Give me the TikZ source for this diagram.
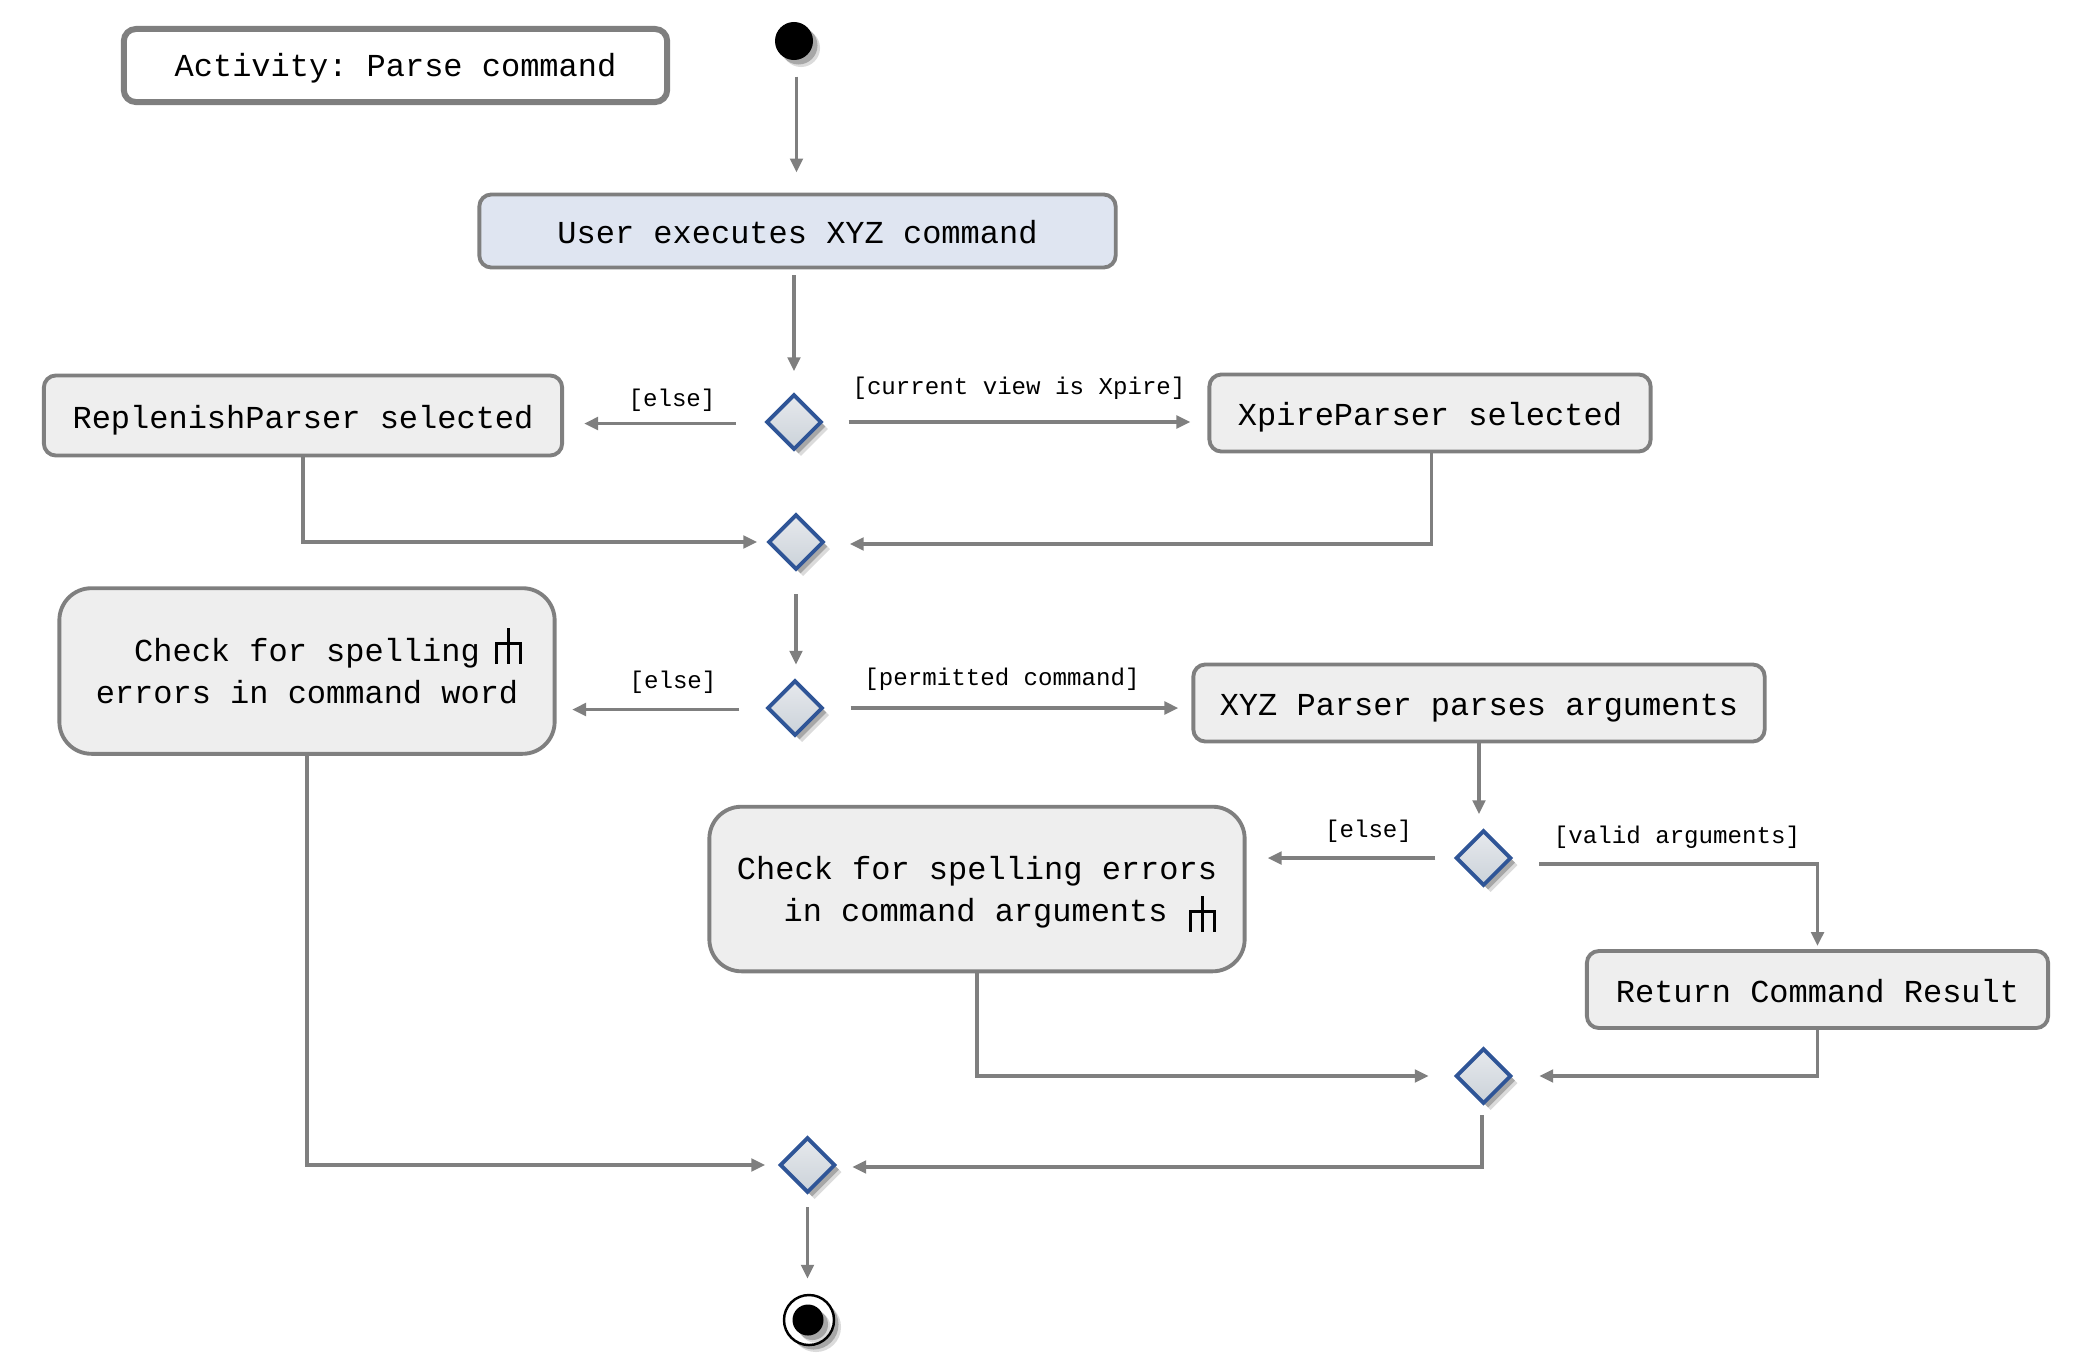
\documentclass[tikz,border=0pt]{standalone}
\usepackage{fontspec}
\setmonofont{Liberation Mono}
\usetikzlibrary{shapes.geometric,arrows.meta,shadows}
\definecolor{linegray}{HTML}{7F7F7F}
\definecolor{boxgray}{HTML}{EEEEEE}
\definecolor{userblue}{HTML}{DFE5F1}
\definecolor{diamondblue}{HTML}{2F5597}
\definecolor{diamondlight}{HTML}{E6E9ED}
\definecolor{diamonddark}{HTML}{CBD2D9}
\tikzstyle{softshadow} = [drop shadow={shadow xshift=0.07cm,shadow yshift=-0.07cm,fill=black,opacity=0.14},
	drop shadow={shadow xshift=0.045cm,shadow yshift=-0.045cm,fill=black,opacity=0.24}]
\tikzstyle{activity} = [draw=linegray, line width=1.1pt, fill=boxgray, inner sep=0pt,
	font=\ttfamily\fontsize{9.1}{11.8}\selectfont]
\tikzstyle{action} = [activity, rounded corners=0.12cm, text height=0.3cm, text depth=0.05cm]
\tikzstyle{bigaction} = [activity, align=right, rounded corners=0.32cm]
\tikzstyle{choice} = [diamond, aspect=1, draw=diamondblue, line width=1.1pt, minimum size=0.555cm, inner sep=0pt,
	shading angle=45, top color=diamondlight, bottom color=diamonddark, softshadow]
\tikzstyle{guard} = [inner sep=0pt, font=\ttfamily\fontsize{6.86}{8}\selectfont]
\tikzstyle{flow} = [draw=linegray, line width=1.1pt, -{Triangle[length=0.14cm,width=0.125cm]}]
\tikzset{rake/.pic={
	\draw [line width=0.85pt] (0,-18) -- (0,18);
	\draw [line width=0.85pt] (-12,18) -- (-12,-3) -- (12,-3) -- (12,18);
}}

\begin{document}
\begin{tikzpicture}[x=0.01cm,y=-0.01cm]
	\useasboundingbox (0,0) rectangle (2088,1366);

	\node [action, fill=white, line width=1.7pt, minimum width=5.43cm, minimum height=0.73cm, text height=0.28cm, text depth=0.056cm] (title) at (395.5,65.5) {Activity: Parse command};
	\node [circle, fill=black, minimum size=0.38cm, inner sep=0pt, softshadow] (start) at (794,41) {};

	\node [action, fill=userblue, minimum width=6.36cm, minimum height=0.73cm] (user) at (797.5,231) {User executes XYZ command};
	\node [choice] (view) at (794,422) {};
	\node [action, minimum width=5.18cm, minimum height=0.8cm] (replenish) at (303,415.5) {ReplenishParser selected};
	\node [action, minimum width=4.41cm, minimum height=0.77cm] (xpire) at (1430,413) {XpireParser selected};
	\node [choice] (viewend) at (796,542) {};

	\node [choice] (permit) at (795,708) {};
	\node [bigaction, minimum width=4.95cm, minimum height=1.655cm] (checkword) at (307,671) {Check for spelling\hphantom{xx}\\errors in command word};
	\node [action, minimum width=5.71cm, minimum height=0.77cm] (xyz) at (1479,703) {XYZ Parser parses arguments};
	\node [choice] (valid) at (1483.5,858) {};
	\node [bigaction, text depth=0pt, minimum width=5.35cm, minimum height=1.645cm] (checkargs) at (977,889) {Check for spelling errors\\in command arguments\hphantom{xx}\rule{0.11cm}{0pt}};
	\node [action, minimum width=4.61cm, minimum height=0.77cm] (result) at (1817.5,989.5) {Return Command Result};
	\node [choice] (validend) at (1483.5,1076) {};
	\node [choice] (permitend) at (807.5,1165) {};

	\node [circle, draw=black, line width=0.7pt, fill=white, minimum size=0.5cm, inner sep=0pt, softshadow] (stopring) at (809,1320) {};
	\node [circle, fill=black, minimum size=0.31cm, inner sep=0pt, softshadow] (stop) at (808,1320) {};

	\pic at (508,646) {rake};
	\pic at (1202.5,914) {rake};

	\node [guard] (elsea) at (672,400) {[else]};
	\node [guard] (viewlabel) at (1019,388) {[current view is Xpire]};
	\node [guard] (elseb) at (673,682) {[else]};
	\node [guard] (permitlabel) at (1002,679) {[permitted command]};
	\node [guard] (elsec) at (1368.5,831) {[else]};
	\node [guard] (validlabel) at (1677,837.5) {[valid arguments]};

	\draw [flow, shorten <=0.16cm, shorten >=0.2cm] ([xshift=0.025cm]start.south) -- ([xshift=0.025cm]start.south |- user.north);
	\draw [flow, shorten <=0.06cm, shorten >=0.21cm] (user.south -| view.north) -- (view.north);
	\draw [flow, shorten <=0.285cm, shorten >=0.2cm] ([yshift=-0.015cm]view.west) -- ([yshift=-0.015cm]replenish.east |- view.west);
	\draw [flow, shorten <=0.25cm, shorten >=0.17cm] (view.east) -- (xpire.west |- view.east);
	\draw [flow, shorten >=0.09cm] (replenish.south) |- (viewend.west);
	\draw [flow, shorten >=0.24cm] ([xshift=0.015cm]xpire.south) |- ([yshift=-0.02cm]viewend.east);
	\draw [flow, shorten <=0.225cm, shorten >=0.135cm] (viewend.south) -- (viewend.south |- permit.north);
	\draw [flow, shorten <=0.26cm, shorten >=0.155cm] ([yshift=-0.015cm]permit.west) -- ([yshift=-0.015cm]checkword.east |- permit.west);
	\draw [flow, shorten <=0.26cm, shorten >=0.13cm] (permit.east) -- (xyz.west |- permit.east);
	\draw [flow, shorten >=0.14cm] (xyz.south) -- (xyz.south |- valid.north);
	\draw [flow, shorten <=0.185cm, shorten >=0.21cm] (valid.west) -- (checkargs.east |- valid.west);
	\draw [flow, shorten <=0.26cm, shorten >=0.03cm] ([yshift=-0.06cm]valid.east) -| (result.north);
	\draw [flow, shorten >=0.25cm] (checkargs.south) |- (validend.west);
	\draw [flow, shorten >=0.26cm] (result.south) |- (validend.east);
	\draw [flow, shorten <=0.095cm, shorten >=0.15cm] ([xshift=-0.015cm]validend.south) |- ([yshift=-0.02cm]permitend.east);
	\draw [flow, shorten >=0.125cm] (checkword.south) |- (permitend.west);
	\draw [flow, shorten <=0.125cm, shorten >=0.15cm] (permitend.south) -- (permitend.south |- stopring.north);
\end{tikzpicture}
\end{document}
